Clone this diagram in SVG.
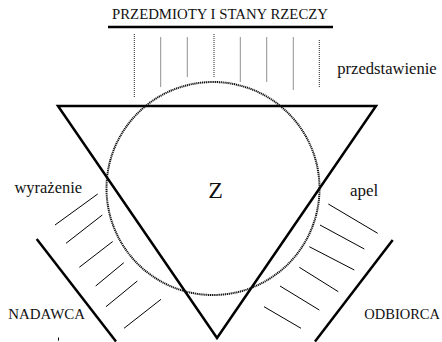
<svg xmlns="http://www.w3.org/2000/svg" width="442" height="342" viewBox="0 0 442 342">
<style>
text{font-family:"Liberation Serif","Times New Roman",serif;fill:#111}
.cap{font-size:14px}
.low{font-size:16px}
.thick{stroke:#000;stroke-width:2.5;fill:none}
.hatch{stroke:#000;stroke-width:1;fill:none}
.vdot{stroke:#222;stroke-width:1;stroke-dasharray:1 1;fill:none}
.circ{stroke:#111;stroke-width:2;stroke-dasharray:1.2 0.7;fill:none}
</style>
<rect width="442" height="342" fill="#fff"/>
<g id="objects">
<text class="cap" x="112" y="19" textLength="216" lengthAdjust="spacingAndGlyphs">PRZEDMIOTY I STANY RZECZY</text>
<line class="thick" x1="108" y1="27" x2="333" y2="27"/>
<g id="representation-rays">
<line class="vdot" x1="134.3" y1="34" x2="134.3" y2="98"/>
<line class="vdot" x1="160.7" y1="37.5" x2="160.7" y2="87.5"/>
<line class="vdot" x1="187.3" y1="37.5" x2="187.3" y2="77"/>
<line class="vdot" x1="214" y1="34" x2="214" y2="77"/>
<line class="vdot" x1="240.3" y1="37.5" x2="240.3" y2="82"/>
<line class="vdot" x1="266.7" y1="37.5" x2="266.7" y2="82"/>
<line class="vdot" x1="293.3" y1="37.5" x2="293.3" y2="90"/>
<line class="vdot" x1="319.3" y1="40" x2="319.3" y2="87.5"/>
</g>
<text class="low" x="337.3" y="73.5" textLength="99.4" lengthAdjust="spacingAndGlyphs">przedstawienie</text>
</g>
<g id="sign">
<polygon class="thick" points="58,106 376,106 217,338" stroke-linejoin="miter"/>
<circle class="circ" cx="213" cy="188.5" r="106.5"/>
<text x="208.3" y="197.7" style="font-size:24px">Z</text>
</g>
<g id="sender">
<text class="low" x="14.5" y="193.3" textLength="67.5" lengthAdjust="spacingAndGlyphs">wyrażenie</text>
<line class="thick" x1="36.7" y1="239" x2="116" y2="341.5"/>
<g id="expression-hatch">
<line class="hatch" x1="55" y1="225" x2="97.7" y2="194"/>
<line class="hatch" x1="66" y1="243.3" x2="102.3" y2="215"/>
<line class="hatch" x1="79.3" y1="267.3" x2="112.7" y2="241.5"/>
<line class="hatch" x1="95.7" y1="286" x2="123.8" y2="262.7"/>
<line class="hatch" x1="106" y1="306.7" x2="137.3" y2="281"/>
<line class="hatch" x1="124" y1="328.3" x2="161" y2="299.3"/>
</g>
<text class="cap" x="8.3" y="319.3" textLength="76.7" lengthAdjust="spacingAndGlyphs">NADAWCA</text>
<line stroke="#000" stroke-width="1" x1="58.5" y1="337.5" x2="58.5" y2="340.7"/>
</g>
<g id="receiver">
<text class="low" x="350" y="195.5" textLength="28.3" lengthAdjust="spacingAndGlyphs">apel</text>
<line class="thick" x1="392.7" y1="240" x2="315" y2="341.5"/>
<g id="appeal-hatch">
<line class="hatch" x1="328.3" y1="204" x2="377.7" y2="233.3"/>
<line class="hatch" x1="320" y1="225" x2="364.3" y2="249"/>
<line class="hatch" x1="309.3" y1="246.7" x2="354.3" y2="270"/>
<line class="hatch" x1="299.3" y1="267.3" x2="338.3" y2="291.7"/>
<line class="hatch" x1="280" y1="286" x2="319.3" y2="310"/>
<line class="hatch" x1="264" y1="306.7" x2="301" y2="328.3"/>
</g>
<text class="cap" x="364.3" y="319.3" textLength="75.7" lengthAdjust="spacingAndGlyphs">ODBIORCA</text>
</g>
</svg>
